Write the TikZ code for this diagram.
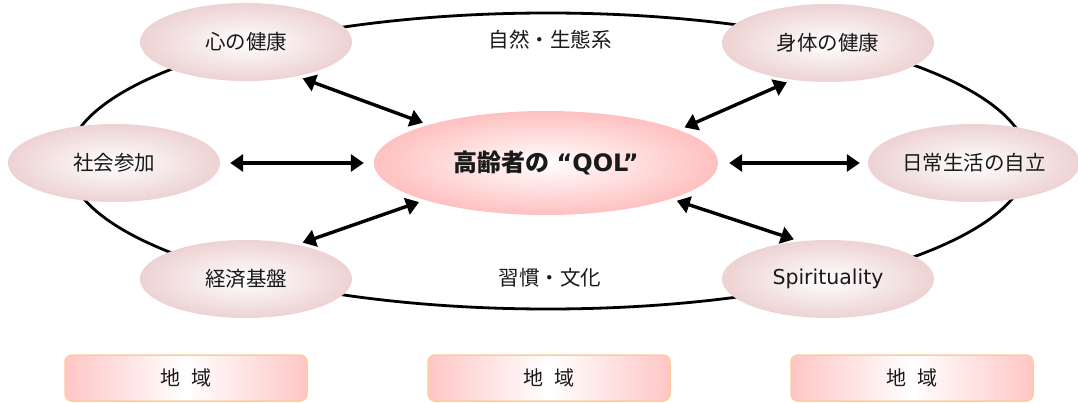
\documentclass[tikz,border=0pt]{standalone}
\usepackage{fontspec}
\setmainfont{Noto Sans CJK JP}
\newfontfamily\latinfont{DejaVu Sans}
\usetikzlibrary{arrows.meta,shapes.geometric}
\definecolor{ellpink}{HTML}{EDD2D3}
\definecolor{qolpink}{HTML}{FFC0C0}
\definecolor{boxpink}{HTML}{FFC6C6}
\definecolor{boxline}{HTML}{FFCC99}
\definecolor{txt}{HTML}{1A1A1A}
\tikzset{
  small/.style={ellipse, minimum width=212pt, minimum height=78pt, inner sep=0pt,
    shading=radial, outer color=ellpink, inner color=white, text=txt, font=\fontsize{20.5}{24}\selectfont},
  qolnode/.style={ellipse, minimum width=344pt, minimum height=104pt, inner sep=0pt,
    shading=radial, outer color=qolpink, inner color=white, text=txt, font=\fontsize{24}{28}\selectfont\bfseries},
  areabox/.style={rectangle, rounded corners=7pt, minimum width=242pt, minimum height=46pt, inner sep=0pt,
    draw=boxline, line width=1.5pt, left color=boxpink, right color=boxpink, middle color=white,
    text=txt, font=\fontsize{20}{24}\selectfont},
  plain/.style={text=txt, font=\fontsize{20.5}{24}\selectfont},
  arr/.style={line width=3.4pt, {Triangle[length=13pt,width=17pt]}-{Triangle[length=13pt,width=17pt]}},
}
\begin{document}
\begin{tikzpicture}[x=1pt,y=-1pt]
\useasboundingbox (0,0) rectangle (1078,403);
\fill[white] (0,0) rectangle (1078,403);
% big ellipse
\draw[line width=2.8pt] (548,161) ellipse [x radius=480pt, y radius=148pt];
% nodes
\node[small] (kokoro) at (246,42) {心の健康};
\node[small] (shintai) at (828,43) {身体の健康};
\node[small] (shakai) at (114,163) {社会参加};
\node[small] (jiritsu) at (974,163) {日常生活の自立};
\node[small] (keizai) at (246,279) {経済基盤};
\node[small] (spirit) at (828,279) {\latinfont Spirituality};
\node[qolnode] (qol) at (546,163) {高齢者の\hspace{0.3em}{\latinfont\bfseries “QOL”}};
\node[plain] (shizen) at (550,40) {自然・生態系};
\node[plain] (bunka) at (550,278) {習慣・文化};
\node[areabox] (area1) at (186,378) {地\hspace{0.55em}域};
\node[areabox] (area2) at (549,378) {地\hspace{0.55em}域};
\node[areabox] (area3) at (912,378) {地\hspace{0.55em}域};
% arrows
\draw[arr, shorten <=6pt, shorten >=6pt] (kokoro.-34) -- (qol.162);
\draw[arr, shorten <=6pt, shorten >=6pt] (shintai.226) -- (qol.14);
\draw[arr, shorten <=10pt, shorten >=10pt] (shakai.east) -- (qol.west);
\draw[arr, shorten <=11pt, shorten >=8pt] (qol.east) -- (jiritsu.west);
\draw[arr, shorten <=6pt, shorten >=6pt] (keizai.34) -- (qol.197);
\draw[arr, shorten <=6pt, shorten >=6pt] (qol.-16) -- (spirit.127);
\end{tikzpicture}
\end{document}
